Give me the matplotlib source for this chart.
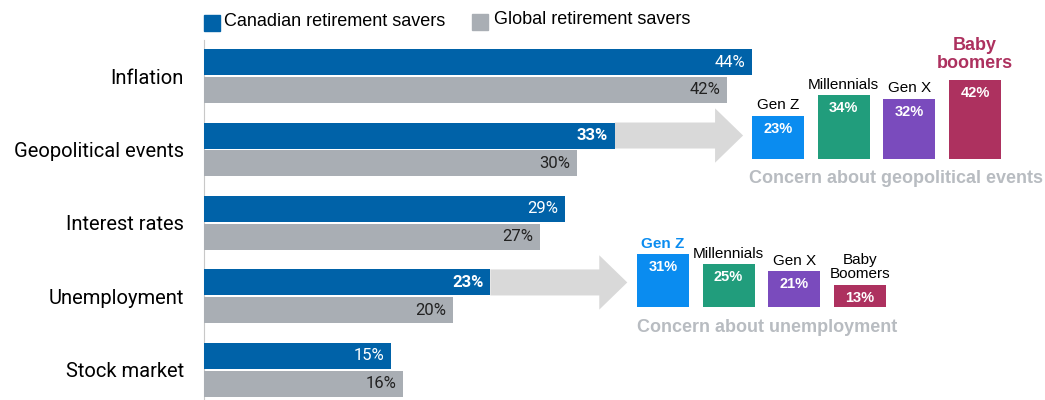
import matplotlib
matplotlib.use("Agg")
import matplotlib.pyplot as plt
from matplotlib.patches import FancyArrow, Rectangle

# Données principales
categories = ["Inflation", "Geopolitical events", "Interest rates", "Unemployment", "Stock market"]
canadian = [44, 33, 29, 23, 15]
global_ = [42, 30, 27, 20, 16]
bold_canadian = [False, True, False, True, False]

# Détail par génération
generations = ["Gen Z", "Millennials", "Gen X", "Baby\nboomers"]
geo_values = [23, 34, 32, 42]
unemp_generations = ["Gen Z", "Millennials", "Gen X", "Baby\nBoomers"]
unemp_values = [31, 25, 21, 13]

BLUE = "#0062a8"
GREY = "#a9aeb4"
ARROW = "#d9d9d9"
GEN_COLORS = ["#0a8cf0", "#219d7c", "#7a4bbd", "#ad315f"]
CAPTION = "#b8bcc1"

W, H = 1045, 400
fig = plt.figure(figsize=(W / 100, H / 100), dpi=100)


def box(x0, y0, x1, y1):
    # pixels (haut-gauche) -> fraction de figure
    return [x0 / W, 1 - y1 / H, (x1 - x0) / W, (y1 - y0) / H]


ax = fig.add_axes(box(204, 40, W, 400))
ax.set_xlim(0, (W - 204) / 12.45)
ax.set_ylim(4.41, -0.49)

bh = 0.354
off = 0.19
pos = list(range(len(categories)))
ax.barh([p - off for p in pos], canadian, height=bh, color=BLUE, zorder=3)
ax.barh([p + off for p in pos], global_, height=bh, color=GREY, zorder=3)

for p, c, g, b in zip(pos, canadian, global_, bold_canadian):
    ax.text(c - 0.55, p - off, f"{c}%", color="white", ha="right", va="center",
            fontsize=12, family="Roboto", fontweight="bold" if b else "normal", zorder=5)
    ax.text(g - 0.55, p + off, f"{g}%", color="#222222", ha="right", va="center",
            fontsize=12, family="Roboto", zorder=5)

# flèches vers les détails
arrow_tips = {1: 43.3, 3: 34.0}
for i, tip in arrow_tips.items():
    ax.add_patch(FancyArrow(canadian[i], i - off, tip - canadian[i], 0, width=bh,
                            head_width=0.74, head_length=2.25, length_includes_head=True,
                            color=ARROW, lw=0, zorder=2))

ax.set_yticks(pos)
ax.set_yticklabels(categories, fontsize=14.5, family="Roboto")
ax.tick_params(axis="y", length=0, pad=14.5)
ax.set_xticks([])
for s in ["top", "right", "bottom"]:
    ax.spines[s].set_visible(False)
ax.spines["left"].set_color("#c8c8c8")

# légende
fig.patches.append(Rectangle((204 / W, 1 - 31 / H), 16 / W, 16 / H, color=BLUE,
                             transform=fig.transFigure))
fig.text(224 / W, 1 - 22 / H, "Canadian retirement savers", fontsize=13,
         family="Liberation Sans", va="center")
fig.patches.append(Rectangle((472 / W, 1 - 30 / H), 16 / W, 16 / H, color=GREY,
                             transform=fig.transFigure))
fig.text(494 / W, 1 - 20 / H, "Global retirement savers", fontsize=13,
         family="Liberation Sans", va="center")


def gen_chart(rect, labels, values, px_per, highlight, hl_size, hl_gap,
              caption, cap_x, cap_y):
    a = fig.add_axes(rect)
    a.set_xlim(-0.5, 3.5)
    a.set_ylim(0, rect[3] * H / px_per)
    a.axis("off")
    a.bar(range(4), values, width=0.79, color=GEN_COLORS)
    for k, (lab, v) in enumerate(zip(labels, values)):
        a.annotate(f"{v}%", (k, v), xytext=(0, -9.5), textcoords="offset points",
                   ha="center", va="center", color="white", fontsize=10.5,
                   fontweight="bold", family="Liberation Sans")
        hl = k == highlight
        a.annotate(lab, (k, v), xytext=(0, hl_gap if hl else 2.5),
                   textcoords="offset points",
                   ha="center", va="bottom", fontsize=hl_size if hl else 11,
                   linespacing=1.05,
                   color=GEN_COLORS[k] if hl else "black",
                   fontweight="bold" if hl else "normal",
                   family="Liberation Sans", annotation_clip=False)
    fig.text(cap_x / W, 1 - cap_y / H, caption,
             ha="center", va="center", fontsize=13, fontweight="bold",
             color=CAPTION, family="Liberation Sans")


gen_chart(box(745, 65, 1008, 159), generations, geo_values, 1.88, 3, 13, 6,
          "Concern about geopolitical events", 896, 178)
gen_chart(box(630, 222, 893, 307), unemp_generations, unemp_values, 1.71, 0, 11, 2.5,
          "Concern about unemployment", 767, 327)

fig.savefig("out.png", dpi=100)
